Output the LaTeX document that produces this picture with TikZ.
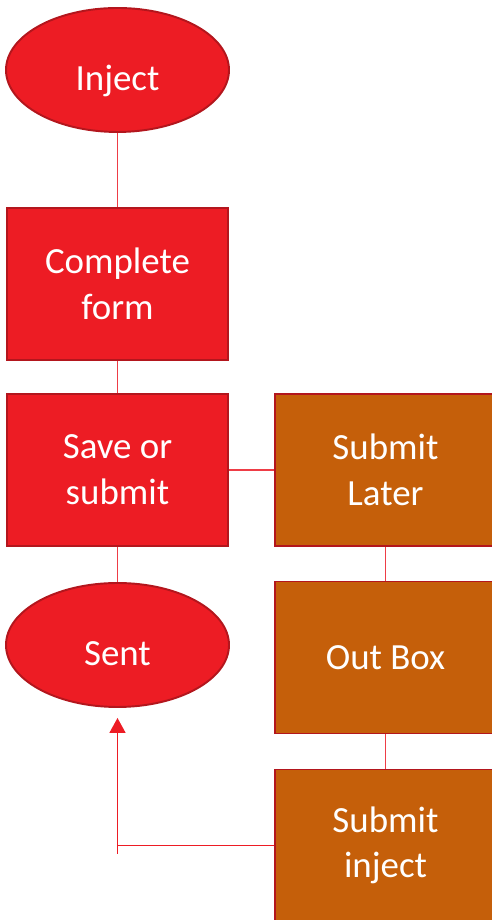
\documentclass[tikz,border=0pt]{standalone}
\usepackage{fontspec}
\setmainfont{Carlito}
\usetikzlibrary{shapes.geometric,arrows.meta}
\definecolor{stepred}{HTML}{ED1C24}
\definecolor{edgered}{HTML}{B3161D}
\definecolor{laterorange}{HTML}{C55F0A}
\definecolor{linkred}{HTML}{EE3D46}
\tikzset{
  box/.style={draw=edgered,line width=1.1pt,text=white,align=center,
    minimum width=4.42cm,minimum height=3.04cm,
    font=\fontsize{21}{26}\selectfont},
  redbox/.style={box,fill=stepred},
  orangebox/.style={box,fill=laterorange},
  terminal/.style={box,ellipse,fill=stepred,minimum width=4.46cm,minimum height=2.48cm,
    inner sep=0pt,text height=0.96cm,text depth=0.12cm},
  link/.style={draw=linkred,line width=1pt}
}
\begin{document}
\begin{tikzpicture}
        \useasboundingbox (0,0) rectangle (9.82,18.4);

        \node (inject) at (2.35,17.0) [terminal]{Inject};
        \node (form) at (2.35,12.72) [redbox]{Complete\\form};
        \node (save) at (2.35,9.0) [redbox]{Save or\\submit};
        \node (sent) at (2.35,5.5) [terminal]{Sent};

        \node (later) at (7.71,9.0) [orangebox]{Submit\\Later};
        \node (outbox) at (7.71,5.25) [orangebox]{Out Box};
        \node (subinj) at (7.71,1.49) [orangebox]{Submit\\inject};

        \draw [link](inject) -- (form);
        \draw [link](form) -- (save);
        \draw [link](save) -- (sent);
        \draw [link](save) -- (later);
        \draw [link](later) -- (outbox);
        \draw [link](outbox) -- (subinj);

        \coordinate (tail) at (2.35,1.32);
        \draw [draw=stepred,line width=0.9pt](subinj.west) -- (subinj.west -| sent.south);
        \draw [draw=stepred,line width=0.9pt,-{Triangle[width=0.32cm,length=0.3cm]},shorten >=0.2cm](tail) -- (sent.south);

    \end{tikzpicture}
\end{document}
